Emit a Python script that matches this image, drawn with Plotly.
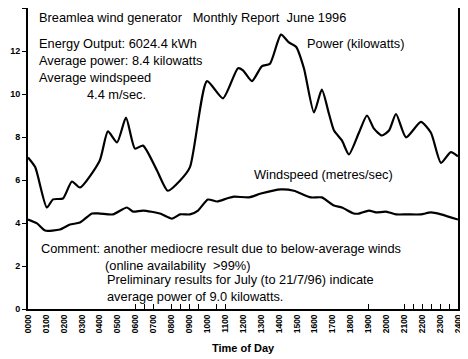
import plotly.graph_objects as go

# Data (hour of day, value)
power_hours = [0.0, 0.4, 1.05, 1.4, 1.95, 2.45, 2.9, 4.0, 4.46, 4.97, 5.47, 5.97, 6.42, 7.2, 7.8,
               8.48, 9.04, 9.99, 10.88, 11.72, 12.0, 12.5, 13.06, 13.5, 14.12, 14.56, 14.96, 15.4,
               15.96, 16.4, 16.8, 17.08, 17.52, 17.91, 18.47, 18.92, 19.3, 19.75, 20.15, 20.54,
               21.1, 21.93, 22.49, 23.05, 23.6, 24.0]
power_kw = [7.05, 6.6, 4.72, 5.1, 5.14, 5.93, 5.65, 6.9, 8.26, 7.75, 8.9, 7.46, 7.6, 6.44, 5.5,
            5.97, 6.6, 10.6, 9.8, 11.2, 11.1, 10.6, 11.3, 11.4, 12.76, 12.4, 12.2, 11.2,
            9.14, 10.2, 9.07, 8.3, 7.84, 7.19, 8.2, 9.0, 8.4, 8.07, 8.3, 9.07,
            7.98, 8.7, 8.2, 6.8, 7.3, 7.1]

wind_hours = [0.0, 0.5, 0.95, 1.79, 2.34, 2.9, 3.57, 4.02, 4.74, 5.52, 5.86, 6.42, 7.37, 8.04,
              8.48, 9.04, 9.49, 10.04, 10.55, 11.1, 11.5, 12.33, 13.0, 14.12, 14.84, 15.79,
              16.4, 17.08, 17.52, 18.19, 18.47, 19.03, 19.42, 19.98, 20.54, 21.15, 21.93,
              22.49, 23.05, 24.0]
wind_ms = [4.16, 3.98, 3.65, 3.7, 3.93, 4.02, 4.44, 4.44, 4.4, 4.72, 4.53, 4.58, 4.44, 4.2,
           4.4, 4.4, 4.58, 5.09, 5.0, 5.14, 5.23, 5.19, 5.37, 5.56, 5.5, 5.19,
           5.19, 4.81, 4.72, 4.44, 4.44, 4.58, 4.49, 4.53, 4.4, 4.4, 4.4,
           4.49, 4.4, 4.16]

x_tick_vals = list(range(0, 25))
x_tick_text = [f"{h:02d}00" for h in range(0, 25)]
x_minor_ticks = [6, 6.5, 7, 8, 8.5, 9, 9.5, 10.5, 11, 19, 21, 21.5, 22, 22.5, 23, 23.5, 24]
y_tick_vals = [0, 2, 4, 6, 8, 10, 12, 14]

fig = go.Figure()
fig.add_trace(go.Scatter(x=power_hours, y=power_kw, mode="lines",
                         line=dict(color="black", width=2.2, shape="spline", smoothing=0.6),
                         showlegend=False, hoverinfo="skip"))
fig.add_trace(go.Scatter(x=wind_hours, y=wind_ms, mode="lines",
                         line=dict(color="black", width=2.2, shape="spline", smoothing=0.6),
                         showlegend=False, hoverinfo="skip"))

font_txt = dict(family="Arial", size=12.8, color="black")

def ann(text, x, y):
    fig.add_annotation(text=text, x=x, y=y, xref="paper", yref="paper",
                       xanchor="left", yanchor="middle", showarrow=False,
                       font=font_txt)

ann("Breamlea wind generator &nbsp;&nbsp;Monthly Report &nbsp;June 1996", 0.021, 0.967)
ann("Energy Output: 6024.4 kWh", 0.021, 0.8806)
ann("Average power: 8.4 kilowatts", 0.021, 0.824)
ann("Average windspeed", 0.021, 0.768)
ann("4.4 m/sec.", 0.1325, 0.711)
ann("Power (kilowatts)", 0.644, 0.8806)
ann("Windspeed (metres/sec)", 0.521, 0.446)
ann("Comment: another mediocre result due to below-average winds", 0.0256, 0.2)
ann("(online availability &nbsp;&gt;99%)", 0.174, 0.144)
ann("Preliminary results for July (to 21/7/96) indicate", 0.179, 0.098)
ann("average power of 9.0 kilowatts.", 0.179, 0.041)

fig.add_annotation(text="<b>Time of Day</b>", x=0.5, y=-0.13, xref="paper", yref="paper",
                   xanchor="center", yanchor="middle", showarrow=False,
                   font=dict(family="Arial", size=11, color="black"))

# The page body has an 8px margin, so the figure is sized/offset to compensate.
fig.update_layout(
    width=460, height=351,
    margin=dict(l=20, r=10, t=0, b=50, autoexpand=False),
    paper_bgcolor="white", plot_bgcolor="white",
    xaxis=dict(range=[0, 24], tickmode="array", tickvals=x_tick_vals, ticktext=x_tick_text,
               tickangle=-90, ticks="", showgrid=False, zeroline=False, automargin=False,
               showline=True, linecolor="black", linewidth=2, mirror=True,
               tickfont=dict(family="Arial", size=8.5, color="black", weight="bold"),
               minor=dict(tickmode="array", tickvals=x_minor_ticks, ticks="inside",
                          ticklen=5, tickcolor="black", tickwidth=1, showgrid=False)),
    yaxis=dict(range=[0, 14], tickmode="array", tickvals=y_tick_vals, automargin=False,
               ticks="outside", ticklen=4, tickcolor="black", tickwidth=1,
               showgrid=False, zeroline=False,
               showline=True, linecolor="black", linewidth=2, mirror=True,
               tickfont=dict(family="Arial", size=9, color="black", weight="bold")),
)

fig.write_html("out.html")
